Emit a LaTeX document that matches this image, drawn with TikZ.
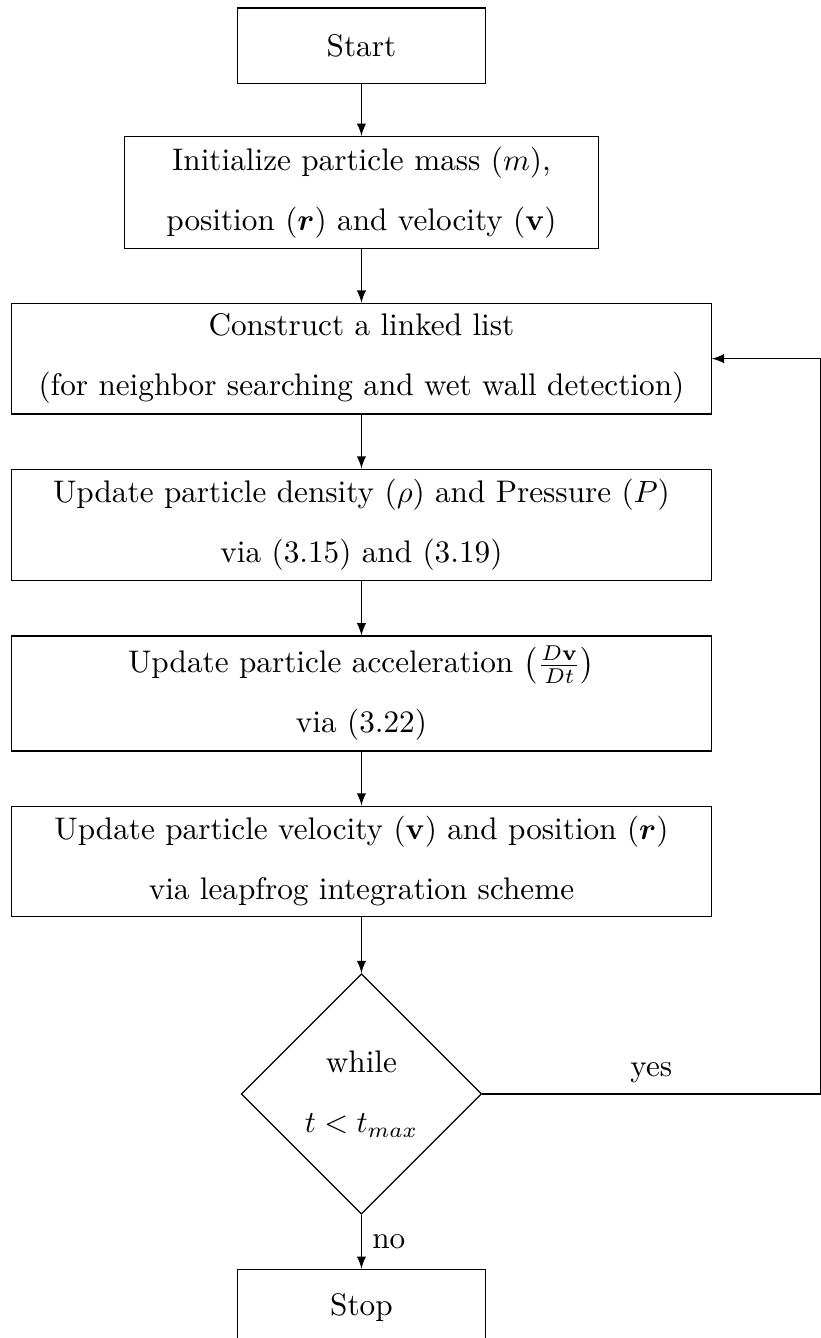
\documentclass[tikz,border=0pt]{standalone}
\usepackage{amsmath,bm}
\usetikzlibrary{positioning,shapes.geometric}

\begin{document}
\begin{tikzpicture}[
  >=latex,
  node distance=0.62cm,
  every node/.style={font={\fontsize{10.2pt}{19.6pt}\selectfont}},
  endbox/.style={draw, minimum width=2.85cm, minimum height=0.87cm},
  midbox/.style={draw, align=center, minimum width=5.44cm, minimum height=1.27cm},
  widebox/.style={draw, align=center, minimum width=8.03cm, minimum height=1.27cm},
  check/.style={draw, diamond, aspect=1, align=center, minimum width=2.76cm,
    minimum height=2.76cm, inner sep=1pt}
]
  \useasboundingbox (-4.15,0.528) rectangle (5.276,-14.834);

  \node[endbox] (start) at (0,0) {Start};
  \node[midbox, below=0.59cm of start] (init)
    {Initialize particle mass ($m$),\\ position ($\bm r$) and velocity ($\mathbf v$)};
  \node[widebox, below=of init] (list)
    {Construct a linked list\\ (for neighbor searching and wet wall detection)};
  \node[widebox, below=of list] (dens)
    {Update particle density ($\rho$) and Pressure ($P$)\\ via (3.15) and (3.19)};
  \node[widebox, below=of dens] (acc)
    {Update particle acceleration $\left(\frac{D\mathbf v}{Dt}\right)$\\ via (3.22)};
  \node[widebox, below=of acc] (vel)
    {Update particle velocity ($\mathbf v$) and position ($\bm r$)\\ via leapfrog integration scheme};
  \node[check, below=0.64cm of vel] (while) {while\\ $t<t_{max}$};
  \node[endbox, below=of while] (stop) {Stop};

  \coordinate (loop) at (5.27,0);

  \draw[->] (start) -- (init);
  \draw[->] (init) -- (list);
  \draw[->] (list) -- (dens);
  \draw[->] (dens) -- (acc);
  \draw[->] (acc) -- (vel);
  \draw[->] (vel) -- (while);
  \draw[->] (while) -- node[right] {no} (stop);
  \draw[->] (while.east) -- node[above] {yes} (while.east -| loop)
    |- (list.east);
\end{tikzpicture}
\end{document}
